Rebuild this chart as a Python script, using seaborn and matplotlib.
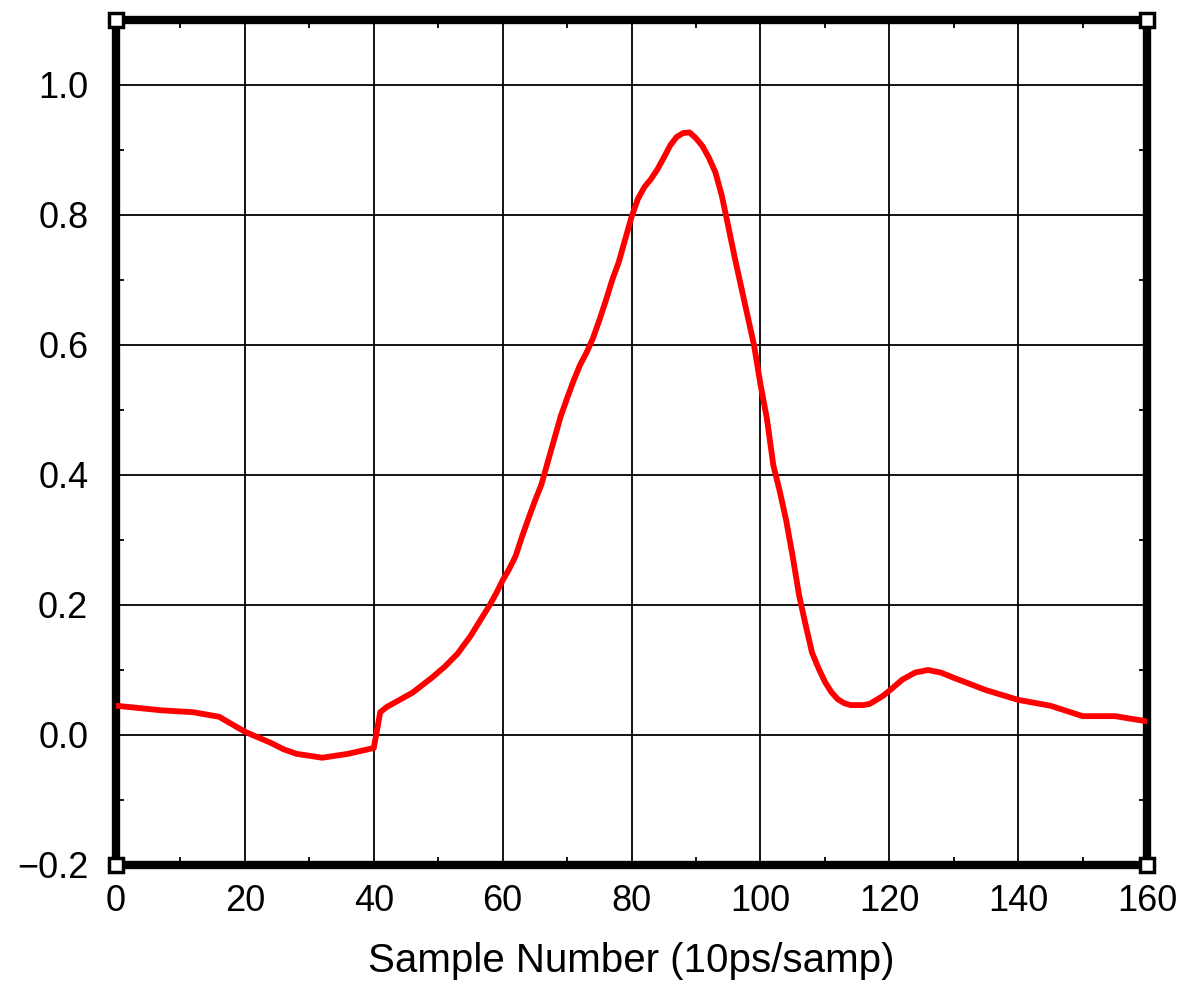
import numpy as np
import pandas as pd
import matplotlib
matplotlib.use("Agg")
import matplotlib.pyplot as plt
from matplotlib.ticker import MultipleLocator
import seaborn as sns

# ---- data ----
sample = [0, 3, 7, 12, 16, 20, 24, 26, 28, 32, 36, 40, 41, 42, 44, 46, 49, 51, 53, 55,
          56, 57, 58, 59, 60, 61, 62, 63, 64, 65, 66, 67, 68, 69, 70, 71, 72, 73, 74,
          75, 76, 77, 78, 79, 80, 81, 82, 83, 84, 85, 86, 87, 88, 89, 90, 91, 92, 93,
          94, 95, 96, 97, 98, 99, 100, 101, 102, 103, 104, 105, 106, 107, 108, 109,
          110, 111, 112, 113, 114, 116, 117, 119, 120, 122, 124, 126, 128, 130, 135,
          140, 145, 150, 155, 160]
amplitude = [0.045, 0.042, 0.038, 0.035, 0.028, 0.005, -0.012, -0.022, -0.029, -0.035,
             -0.029, -0.020, 0.035, 0.043, 0.054, 0.065, 0.088, 0.105, 0.125, 0.152,
             0.168, 0.184, 0.200, 0.218, 0.238, 0.255, 0.275, 0.305, 0.333, 0.360,
             0.385, 0.420, 0.455, 0.490, 0.518, 0.545, 0.569, 0.588, 0.610,
             0.638, 0.668, 0.700, 0.727, 0.762, 0.797, 0.825, 0.843, 0.855, 0.870,
             0.888, 0.907, 0.920, 0.926, 0.927, 0.918, 0.906, 0.888, 0.866,
             0.830, 0.783, 0.735, 0.690, 0.645, 0.600, 0.540, 0.487, 0.415, 0.375,
             0.330, 0.275, 0.215, 0.170, 0.127, 0.103,
             0.082, 0.066, 0.055, 0.049, 0.046, 0.046, 0.048, 0.060, 0.068, 0.085,
             0.096, 0.100, 0.096, 0.088, 0.069,
             0.054, 0.045, 0.029, 0.029, 0.021]
x_ticks = [0, 20, 40, 60, 80, 100, 120, 140, 160]
y_ticks = [-0.2, 0.0, 0.2, 0.4, 0.6, 0.8, 1.0]
x_label = "Sample Number (10ps/samp)"

df = pd.DataFrame({"sample": sample, "amplitude": amplitude})

sns.set_style("white")
plt.rcParams["font.family"] = ["Liberation Sans", "DejaVu Sans"]
plt.rcParams["text.color"] = "black"
plt.rcParams["xtick.color"] = "black"
plt.rcParams["ytick.color"] = "black"
plt.rcParams["axes.labelcolor"] = "black"

fig = plt.figure(figsize=(11.84, 9.88), dpi=100)
ax = fig.add_axes([0.098, 0.1245, 0.8708, 0.8553])

ax.set_axisbelow(True)
sns.lineplot(data=df, x="sample", y="amplitude", ax=ax, color="#ff0000",
             linewidth=4.2, zorder=3)

ax.set_xlim(0, 160)
ax.set_ylim(-0.2, 1.1)
ax.set_xticks(x_ticks)
ax.set_yticks(y_ticks)
ax.set_xticklabels([str(v) for v in x_ticks])
ax.set_yticklabels([f"{v:.1f}".replace("-", "\u2212") for v in y_ticks])
ax.xaxis.set_minor_locator(MultipleLocator(10))
ax.yaxis.set_minor_locator(MultipleLocator(0.1))

ax.grid(True, which="major", color="black", linewidth=1.3)
ax.tick_params(axis="both", which="major", direction="in", length=0,
               labelsize=26, labelcolor="black")
ax.tick_params(axis="y", which="major", pad=20)
ax.tick_params(axis="x", which="major", pad=14)
ax.tick_params(axis="both", which="minor", direction="in", length=6, width=1.3,
               top=True, right=True, bottom=True, left=True, color="black")

for s in ax.spines.values():
    s.set_linewidth(6)
    s.set_color("black")

ax.set_xlabel(x_label, fontsize=29, labelpad=16, color="black")
ax.set_ylabel("")

# corner boxes of the frame
ax.plot([0, 1, 0, 1], [0, 0, 1, 1], linestyle="none", marker="s", markersize=10,
        markerfacecolor="white", markeredgecolor="black", markeredgewidth=2.5,
        transform=ax.transAxes, clip_on=False, zorder=5)

fig.savefig("out.png", dpi=100)
